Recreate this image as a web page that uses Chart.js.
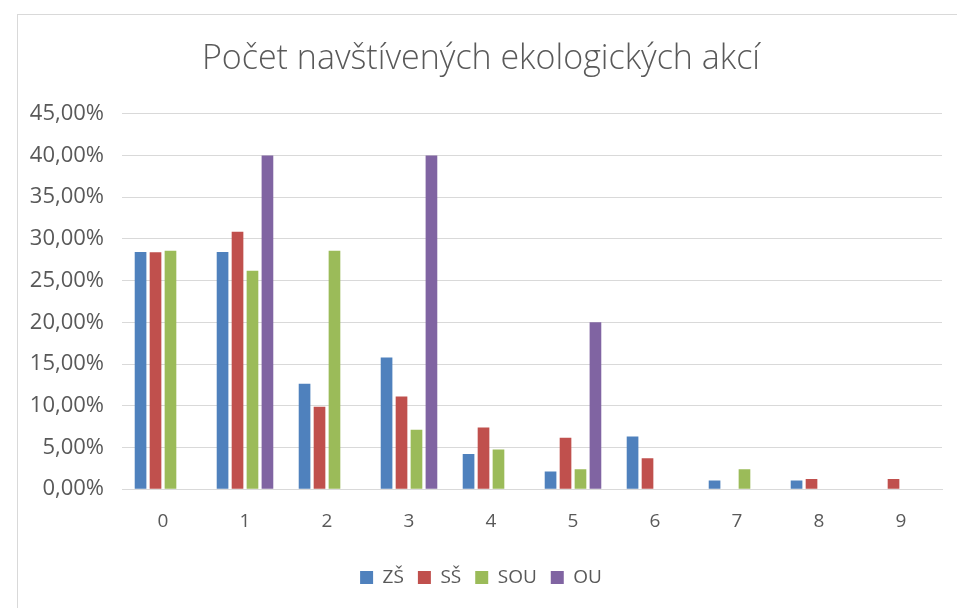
<!DOCTYPE html>
<html><head><meta charset="utf-8">
<script src="https://cdn.jsdelivr.net/npm/chart.js@4/dist/chart.umd.min.js"></script>
<style>
html,body{margin:0;padding:0;background:#fff;}
#wrap{position:absolute;left:0;top:0;width:957px;height:608px;}
#frame{position:absolute;left:17px;top:14px;width:960px;height:620px;border:1px solid #D9D9D9;box-sizing:border-box;}
</style></head>
<body>
<div id="frame"></div>
<div id="wrap"><canvas id="c" width="957" height="608"></canvas></div>
<script>
const categories = ['0','1','2','3','4','5','6','7','8','9'];
const seriesNames = ['ZŠ','SŠ','SOU','OU'];
const zs  = [28.42, 28.42, 12.63, 15.79, 4.21, 2.11, 6.32, 1.05, 1.05, null];
const ss  = [28.40, 30.86, 9.88, 11.11, 7.41, 6.17, 3.70, null, 1.23, 1.23];
const sou = [28.57, 26.19, 28.57, 7.14, 4.76, 2.38, null, 2.38, null, null];
const ou  = [null, 40.00, null, 40.00, null, 20.00, null, null, null, null];
const colors = ['#4F81BD','#C0504D','#9BBB59','#8064A2'];
const grey = '#595959';
const font = "'Open Sans', 'Liberation Sans', sans-serif";

const data = {
  labels: categories,
  datasets: [zs, ss, sou, ou].map((d,i)=>({
    label: seriesNames[i], data: d, backgroundColor: colors[i],
    borderWidth: 0, categoryPercentage: 0.73, barPercentage: 0.78
  }))
};

new Chart(document.getElementById('c'), {
  type: 'bar',
  data,
  options: {
    responsive: false, animation: false,
    layout: { padding: { left: 20, right: 15, top: 39, bottom: 11 } },
    plugins: {
      title: { display: true, text: 'Počet navštívených ekologických akcí', color: grey,
        font: { family: font, size: 34, weight: '300' }, padding: { top: 0, bottom: 34 } },
      legend: { position: 'bottom', labels: { color: grey, boxWidth: 13, boxHeight: 13,
        padding: 14, font: { family: font, size: 19 } } },
      tooltip: { enabled: false }
    },
    scales: {
      x: { grid: { display: false, drawTicks: false }, border: { color: '#D9D9D9' },
        ticks: { color: grey, padding: 21, font: { family: font, size: 19 } } },
      y: { min: 0, max: 45, grid: { color: '#D9D9D9', drawTicks: false }, border: { display: false },
        afterFit: s => { s.width = 102; },
        ticks: { stepSize: 5, color: grey, padding: 18, font: { family: font, size: 22 },
          callback: v => v.toFixed(2).replace('.', ',') + '%' } }
    }
  }
});
</script>
</body></html>
